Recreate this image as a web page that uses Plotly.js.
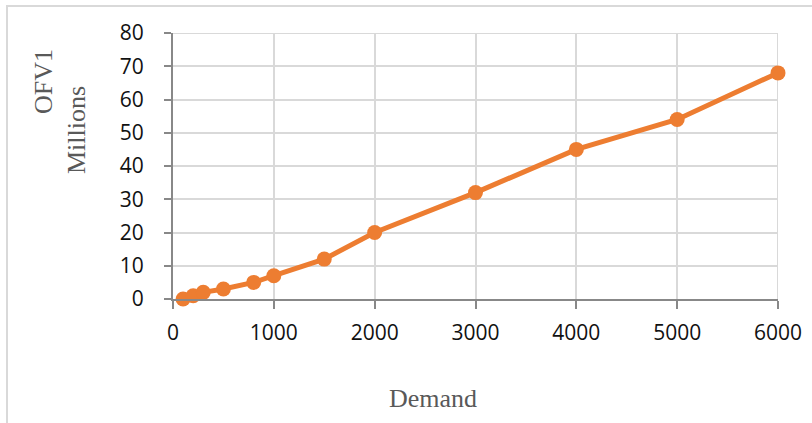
<!DOCTYPE html>
<html>
<head>
<meta charset="utf-8">
<script src="https://cdn.plot.ly/plotly-3.0.1.min.js"></script>
<style>
  html, body { margin: 0; padding: 0; background: #fff; }
  #wrap { position: relative; width: 812px; height: 423px; overflow: hidden; }
  #chart { position: absolute; left: 0; top: 0; width: 812px; height: 423px; }
  #frame { position: absolute; left: 6px; top: 5px; width: 1000px; height: 1000px;
           border-left: 2px solid #d9d9d9; border-top: 2px solid #d9d9d9; pointer-events: none; }
</style>
</head>
<body>
<div id="wrap">
  <div id="chart"></div>
  <div id="frame"></div>
</div>
<script>
// Demand levels and the objective value OFV1 (in millions)
const demand = [100, 200, 300, 500, 800, 1000, 1500, 2000, 3000, 4000, 5000, 6000];
const ofv1 = [0, 1, 2, 3, 5, 7, 12, 20, 32, 45, 54, 68];

const xTicks = [0, 1000, 2000, 3000, 4000, 5000, 6000];
const yTicks = [0, 10, 20, 30, 40, 50, 60, 70, 80];

const orange = '#ED7D31';
const gridColor = '#d9d9d9';
const axisColor = '#888888';
const tickFont = { family: 'Open Sans, Noto Sans, sans-serif', size: 21, color: '#111' };
const titleFont = { family: 'Liberation Serif, DejaVu Serif, serif', size: 26, color: '#595959' };

const trace = {
  x: demand,
  y: ofv1,
  type: 'scatter',
  mode: 'lines+markers',
  cliponaxis: false,
  line: { color: orange, width: 5 },
  marker: { color: orange, size: 15 },
  hoverinfo: 'x+y'
};

const layout = {
  width: 812,
  height: 423,
  margin: { l: 173, r: 34, t: 33, b: 124 },
  paper_bgcolor: '#fff',
  plot_bgcolor: '#fff',
  showlegend: false,
  xaxis: {
    range: [0, 6000],
    tickvals: xTicks,
    ticktext: xTicks.map(String),
    showgrid: true,
    gridcolor: gridColor,
    gridwidth: 2,
    zeroline: false,
    showline: true,
    linecolor: axisColor,
    linewidth: 2,
    ticks: 'outside',
    ticklen: 8,
    tickwidth: 2,
    tickcolor: axisColor,
    tickfont: tickFont,
    ticklabelstandoff: 6,
    fixedrange: true
  },
  yaxis: {
    range: [0, 80],
    tickvals: yTicks,
    ticktext: yTicks.map(String),
    showgrid: true,
    gridcolor: gridColor,
    gridwidth: 2,
    zeroline: false,
    showline: true,
    linecolor: axisColor,
    linewidth: 2,
    ticks: 'outside',
    ticklen: 7,
    tickwidth: 2,
    tickcolor: axisColor,
    tickfont: tickFont,
    ticklabelstandoff: 16,
    fixedrange: true
  },
  shapes: [
    // closing gridlines along the right edge (6000) and the top edge (80)
    { type: 'line', xref: 'x', yref: 'y', x0: 6000, x1: 6000, y0: 0, y1: 80,
      line: { color: gridColor, width: 2 }, layer: 'below' },
    { type: 'line', xref: 'x', yref: 'y', x0: 0, x1: 6000, y0: 80, y1: 80,
      line: { color: gridColor, width: 2 }, layer: 'below' }
  ],
  annotations: [
    { text: 'Demand', xref: 'paper', yref: 'paper',
      x: (433 - 173) / 605, y: -(398 - 299) / 266, xanchor: 'center', yanchor: 'middle',
      showarrow: false, font: titleFont },
    { text: 'OFV1', xref: 'paper', yref: 'paper',
      x: (43 - 173) / 605, y: (299 - 82) / 266, xanchor: 'center', yanchor: 'middle',
      textangle: -90, showarrow: false, font: titleFont },
    { text: 'Millions', xref: 'paper', yref: 'paper',
      x: (76 - 173) / 605, y: (299 - 130) / 266, xanchor: 'center', yanchor: 'middle',
      textangle: -90, showarrow: false, font: titleFont }
  ]
};

Plotly.newPlot('chart', [trace], layout, { displayModeBar: false, staticPlot: true });
</script>
</body>
</html>
